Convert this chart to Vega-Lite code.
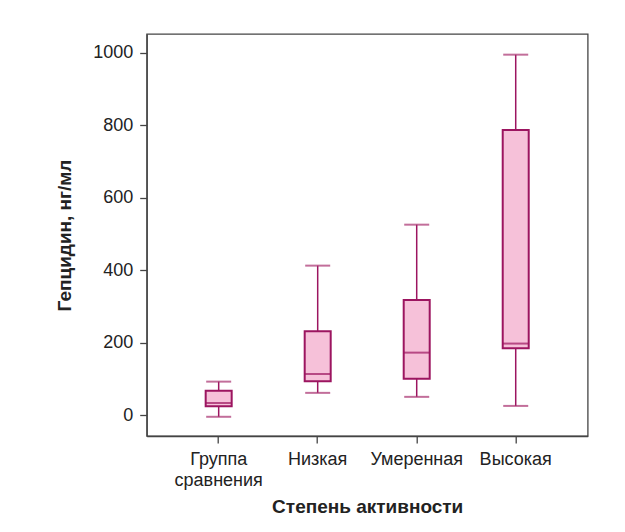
{
  "$schema": "https://vega.github.io/schema/vega-lite/v6.json",
  "width": 441,
  "height": 402,
  "autosize": "none",
  "padding": {"left": 146.7, "top": 34, "right": 37.3, "bottom": 96},
  "background": "white",
  "config": {
    "view": {"stroke": "#444444", "strokeWidth": 1.3},
    "font": "Liberation Sans",
    "axis": {
      "labelFont": "Liberation Sans",
      "titleFont": "Liberation Sans",
      "labelFontSize": 18,
      "titleFontSize": 19,
      "labelColor": "#222222",
      "titleColor": "#222222",
      "domainColor": "#444444",
      "tickColor": "#444444",
      "domainWidth": 1.3,
      "tickWidth": 1.3,
      "tickSize": 7,
      "labelPadding": 7,
      "grid": false
    }
  },
  "data": {
    "values": [
      {"group": "Группа сравнения", "min": -4, "q1": 25, "median": 34, "q3": 68, "max": 93},
      {"group": "Низкая", "min": 62, "q1": 94, "median": 114, "q3": 232, "max": 413},
      {"group": "Умеренная", "min": 51, "q1": 101, "median": 173, "q3": 318, "max": 526},
      {"group": "Высокая", "min": 26, "q1": 185, "median": 198, "q3": 787, "max": 995}
    ]
  },
  "encoding": {
    "x": {
      "field": "group",
      "type": "nominal",
      "sort": null,
      "scale": {"type": "band", "paddingInner": 0, "paddingOuter": 0.227},
      "axis": {
        "title": "Степень активности",
        "labelAngle": 0,
        "labelExpr": "split(datum.label, ' ')",
        "labelLineHeight": 21,
        "titlePadding": 8,
        "titleFontWeight": "bold"
      }
    }
  },
  "layer": [
    {
      "mark": {"type": "rule", "color": "#9c1560", "strokeWidth": 1.5},
      "encoding": {
        "y": {
          "field": "min",
          "type": "quantitative",
          "scale": {"domain": [-57, 1052], "nice": false, "zero": false},
          "axis": {
            "title": "Гепцидин, нг/мл",
            "values": [0, 200, 400, 600, 800, 1000],
            "format": "d",
            "titlePadding": 18,
            "titleFontWeight": "bold"
          }
        },
        "y2": {"field": "max"}
      }
    },
    {
      "mark": {"type": "bar", "size": 26, "fill": "#f6c1d9", "stroke": "#9c1560", "strokeWidth": 2},
      "encoding": {
        "y": {"field": "q1", "type": "quantitative"},
        "y2": {"field": "q3"}
      }
    },
    {
      "mark": {"type": "tick", "size": 26, "thickness": 2, "color": "#9c1560"},
      "encoding": {"y": {"field": "median", "type": "quantitative"}}
    },
    {
      "mark": {"type": "tick", "size": 25, "thickness": 2, "color": "#a8306f"},
      "encoding": {"y": {"field": "min", "type": "quantitative"}}
    },
    {
      "mark": {"type": "tick", "size": 25, "thickness": 2, "color": "#a8306f"},
      "encoding": {"y": {"field": "max", "type": "quantitative"}}
    }
  ]
}
